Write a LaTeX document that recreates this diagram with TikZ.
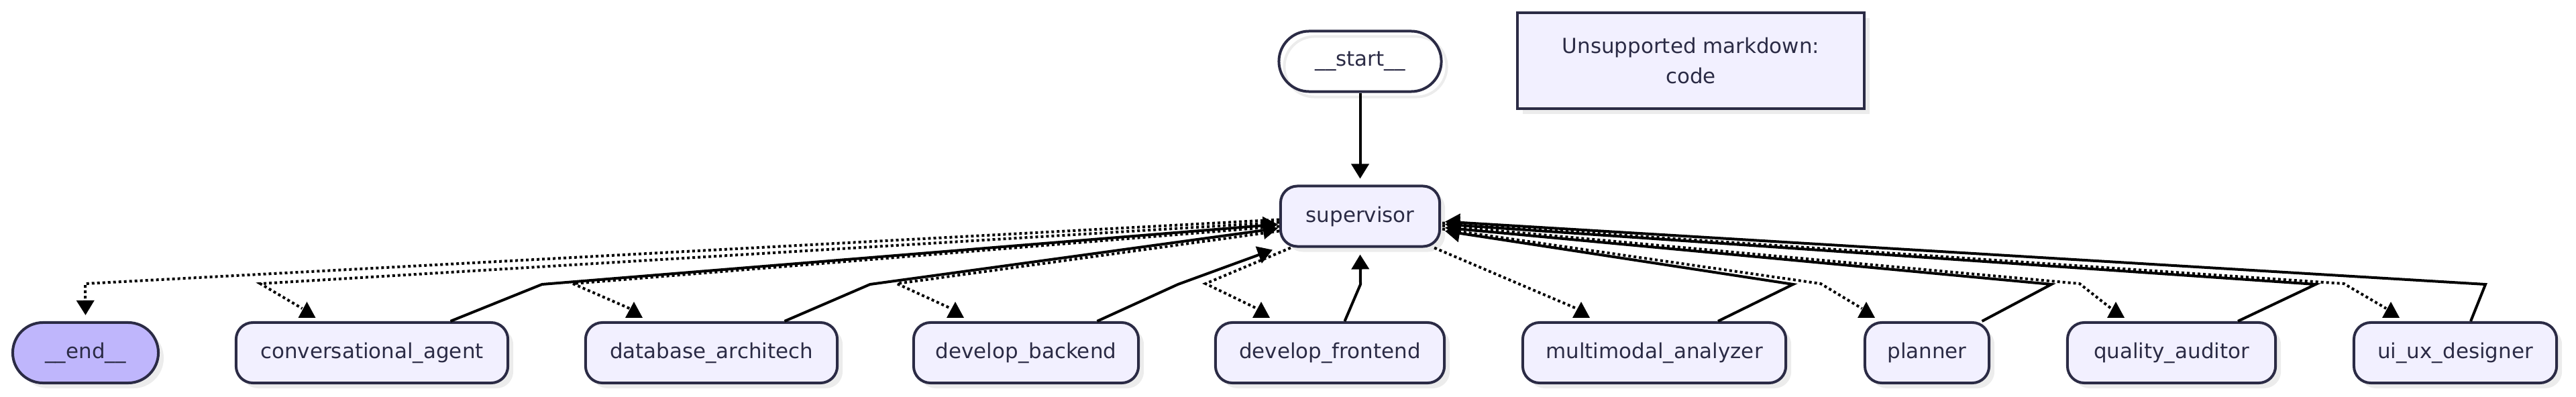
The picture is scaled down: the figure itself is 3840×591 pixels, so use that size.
\documentclass[tikz,border=0pt]{standalone}
\usepackage{fontspec}
\setmainfont{DejaVu Sans}
\usetikzlibrary{arrows.meta,shadows,calc}

\definecolor{nodefill}{HTML}{F2F0FF}
\definecolor{endfill}{HTML}{BFB6FC}
\definecolor{nodeline}{HTML}{2B2B45}
\definecolor{shadowgray}{HTML}{ECECEC}

\newcommand{\nodefont}{\fontsize{8.8}{12.8}\selectfont}
% upward tip sitting on top of a node
\newcommand{\uptip}[2]{\fill ($(#1.north)+(#2-13,-5)$) -- ($(#1.north)+(#2+13,-5)$) -- ($(#1.north)+(#2,-29)$) -- cycle;}

\tikzset{
    base/.style={draw=nodeline, line width=0.04cm, inner sep=0pt, text=nodeline, font=\nodefont, minimum height=0.9cm},
    shade/.style={drop shadow={shadow xshift=0.08cm, shadow yshift=-0.08cm, fill=shadowgray, opacity=1}},
    box/.style={base, shade, fill=nodefill, rounded corners=0.25cm},
    pill/.style={base, rounded corners=0.45cm},
    flow/.style={line width=0.04cm, -{Triangle[length=0.22cm,width=0.26cm]}},
    cond/.style={line width=0.04cm, dash pattern=on 0.04cm off 0.04cm},
}

\begin{document}
\begin{tikzpicture}[x=0.01cm, y=-0.01cm]
    \useasboundingbox (0,0) rectangle (3840,591);

    \node[pill, drop shadow={shadow xshift=0.08cm, shadow yshift=-0.08cm, fill=none, draw=shadowgray, line width=0.04cm, opacity=1}, minimum width=2.42cm] (start) at (2027.5,91.5) {\_\_start\_\_};
    \node[box, minimum width=2.37cm] (supervisor) at (2027.5,322.5) {supervisor};
    \node[base, shade, fill=nodefill, minimum width=5.17cm, minimum height=1.43cm, align=center] (note) at (2520.5,90.5) {Unsupported markdown:\\code};

    \node[pill, shade, fill=endfill, minimum width=2.17cm] (finish) at (127.5,526) {\_\_end\_\_};
    \node[box, minimum width=4.05cm] (conv) at (554.5,526) {conversational\_agent};
    \node[box, minimum width=3.75cm] (dbarch) at (1060.5,526) {database\_architech};
    \node[box, minimum width=3.35cm] (backend) at (1529.5,526) {develop\_backend};
    \node[box, minimum width=3.41cm] (frontend) at (1982.5,526) {develop\_frontend};
    \node[box, minimum width=3.92cm] (multimodal) at (2466,526) {multimodal\_analyzer};
    \node[box, minimum width=1.85cm] (planner) at (2872.5,526) {planner};
    \node[box, minimum width=3.10cm] (quality) at (3237,526) {quality\_auditor};
    \node[box, minimum width=3.02cm] (uiux) at (3660,526) {ui\_ux\_designer};

    \draw[flow, shorten >=0.09cm] (start) -- (supervisor);

    % left side
    \draw[cond, -{Triangle[length=0.22cm,width=0.26cm]}] ($(supervisor.west)+(0,5)$) -- (127,423) -- ($(finish.north)+(0,-9)$);
    \draw[cond] ($(supervisor.west)+(0,9)$) -- (388,423) -- ($(conv.north)+(-104,-19)$);
    \uptip{conv}{-97}
    \draw[flow] ($(conv.north)+(117,0)$) -- (808,424) -- ($(supervisor.west)+(-2,12)$);
    \draw[cond] ($(supervisor.west)+(0,15)$) -- (854,423) -- ($(dbarch.north)+(-122,-19)$);
    \uptip{dbarch}{-115.5}
    \draw[flow] ($(dbarch.north)+(109,0)$) -- (1297,424) -- ($(supervisor.west)+(-2,18)$);
    \draw[cond] ($(supervisor.west)+(0,22)$) -- (1337,423) -- ($(backend.north)+(-112,-19)$);
    \uptip{backend}{-105.5}
    \draw[flow] ($(backend.north)+(106,0)$) -- (1756,424) -- ($(supervisor.south west)+(-10,3)$);
    \draw[cond] ($(supervisor.south west)+(17,0)$) -- (1797,423) -- ($(frontend.north)+(-109,-19)$);
    \uptip{frontend}{-102.5}
    \draw[flow] ($(frontend.north)+(22,0)$) -- (2028,424) -- ($(supervisor.south)+(0,10)$);

    % right side
    \draw[cond] ($(supervisor.south east)+(-10,0)$) -- ($(multimodal.north)+(-116,-19)$);
    \uptip{multimodal}{-109}
    \draw[flow] ($(multimodal.north)+(95,0)$) -- (2673,424) -- ($(supervisor.east)+(6,22)$);
    \draw[cond] ($(supervisor.east)+(2,19)$) -- (2714,423) -- ($(planner.north)+(-97,-19)$);
    \uptip{planner}{-90.5}
    \draw[flow] ($(planner.north)+(82,0)$) -- (3058,424) -- ($(supervisor.east)+(6,17)$);
    \draw[cond] ($(supervisor.east)+(2,14)$) -- (3100,423) -- ($(quality.north)+(-90,-19)$);
    \uptip{quality}{-83}
    \draw[flow] ($(quality.north)+(99,0)$) -- (3452,424) -- ($(supervisor.east)+(6,12)$);
    \draw[cond] ($(supervisor.east)+(2,10)$) -- (3494,423) -- ($(uiux.north)+(-103,-19)$);
    \uptip{uiux}{-96}
    \draw[flow] ($(uiux.north)+(23,0)$) -- (3705,424) -- ($(supervisor.east)+(6,8)$);
\end{tikzpicture}
\end{document}
